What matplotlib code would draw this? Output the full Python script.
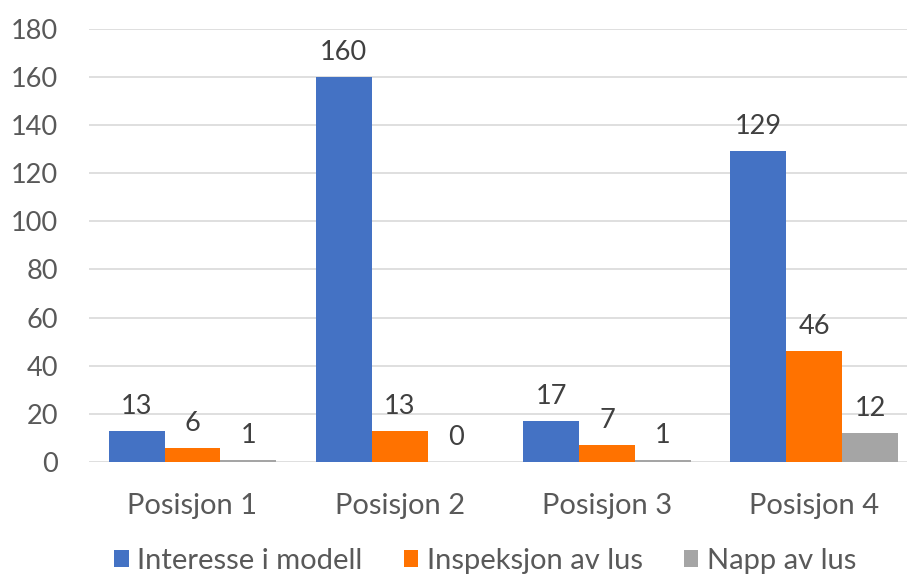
import numpy as np
import matplotlib.pyplot as plt

categories = ['Posisjon 1', 'Posisjon 2', 'Posisjon 3', 'Posisjon 4']
series_names = ['Interesse i modell', 'Inspeksjon av lus', 'Napp av lus']
interesse = [13, 160, 17, 129]
inspeksjon = [6, 13, 7, 46]
napp = [1, 0, 1, 12]
colors = ['#4472C4', '#FF7200', '#A5A5A5']

plt.rcParams['font.family'] = ['Lato', 'DejaVu Sans']
text_color = '#595959'
fs = 19.5
fs_cat = 21

fig = plt.figure(figsize=(9.07, 5.74), dpi=100)
# plot area runs slightly past the right edge of the canvas
ax = fig.add_axes([0.098, 0.195, 0.914, 0.755])

x = np.arange(len(categories))
width = 0.27
for i, (vals, name, col) in enumerate(zip([interesse, inspeksjon, napp], series_names, colors)):
    pos = x + (i - 1) * width
    ax.bar(pos, vals, width, color=col, label=name, zorder=3)
    for xp, v in zip(pos, vals):
        ax.text(xp, v + 5, str(v), ha='center', va='bottom', fontsize=fs, color='#404040')

ax.set_ylim(0, 180)
ax.set_xlim(-0.5, 3.5)
ax.set_yticks(range(0, 181, 20))
ax.yaxis.grid(True, color='#D9D9D9', linewidth=1.2, zorder=0)
ax.set_xticks(x)
ax.set_xticklabels(categories)
ax.tick_params(axis='both', length=0, labelcolor=text_color)
ax.tick_params(axis='y', labelsize=fs, pad=22)
ax.tick_params(axis='x', labelsize=fs_cat, pad=22)
for s in ax.spines.values():
    s.set_visible(False)

fig.legend(loc='lower center', bbox_to_anchor=(0.535, -0.045), ncol=3, frameon=False,
           fontsize=fs_cat, labelcolor=text_color, handlelength=0.5, handleheight=0.5,
           handletextpad=0.3, columnspacing=1.4)

fig.savefig('out.png', dpi=100)
